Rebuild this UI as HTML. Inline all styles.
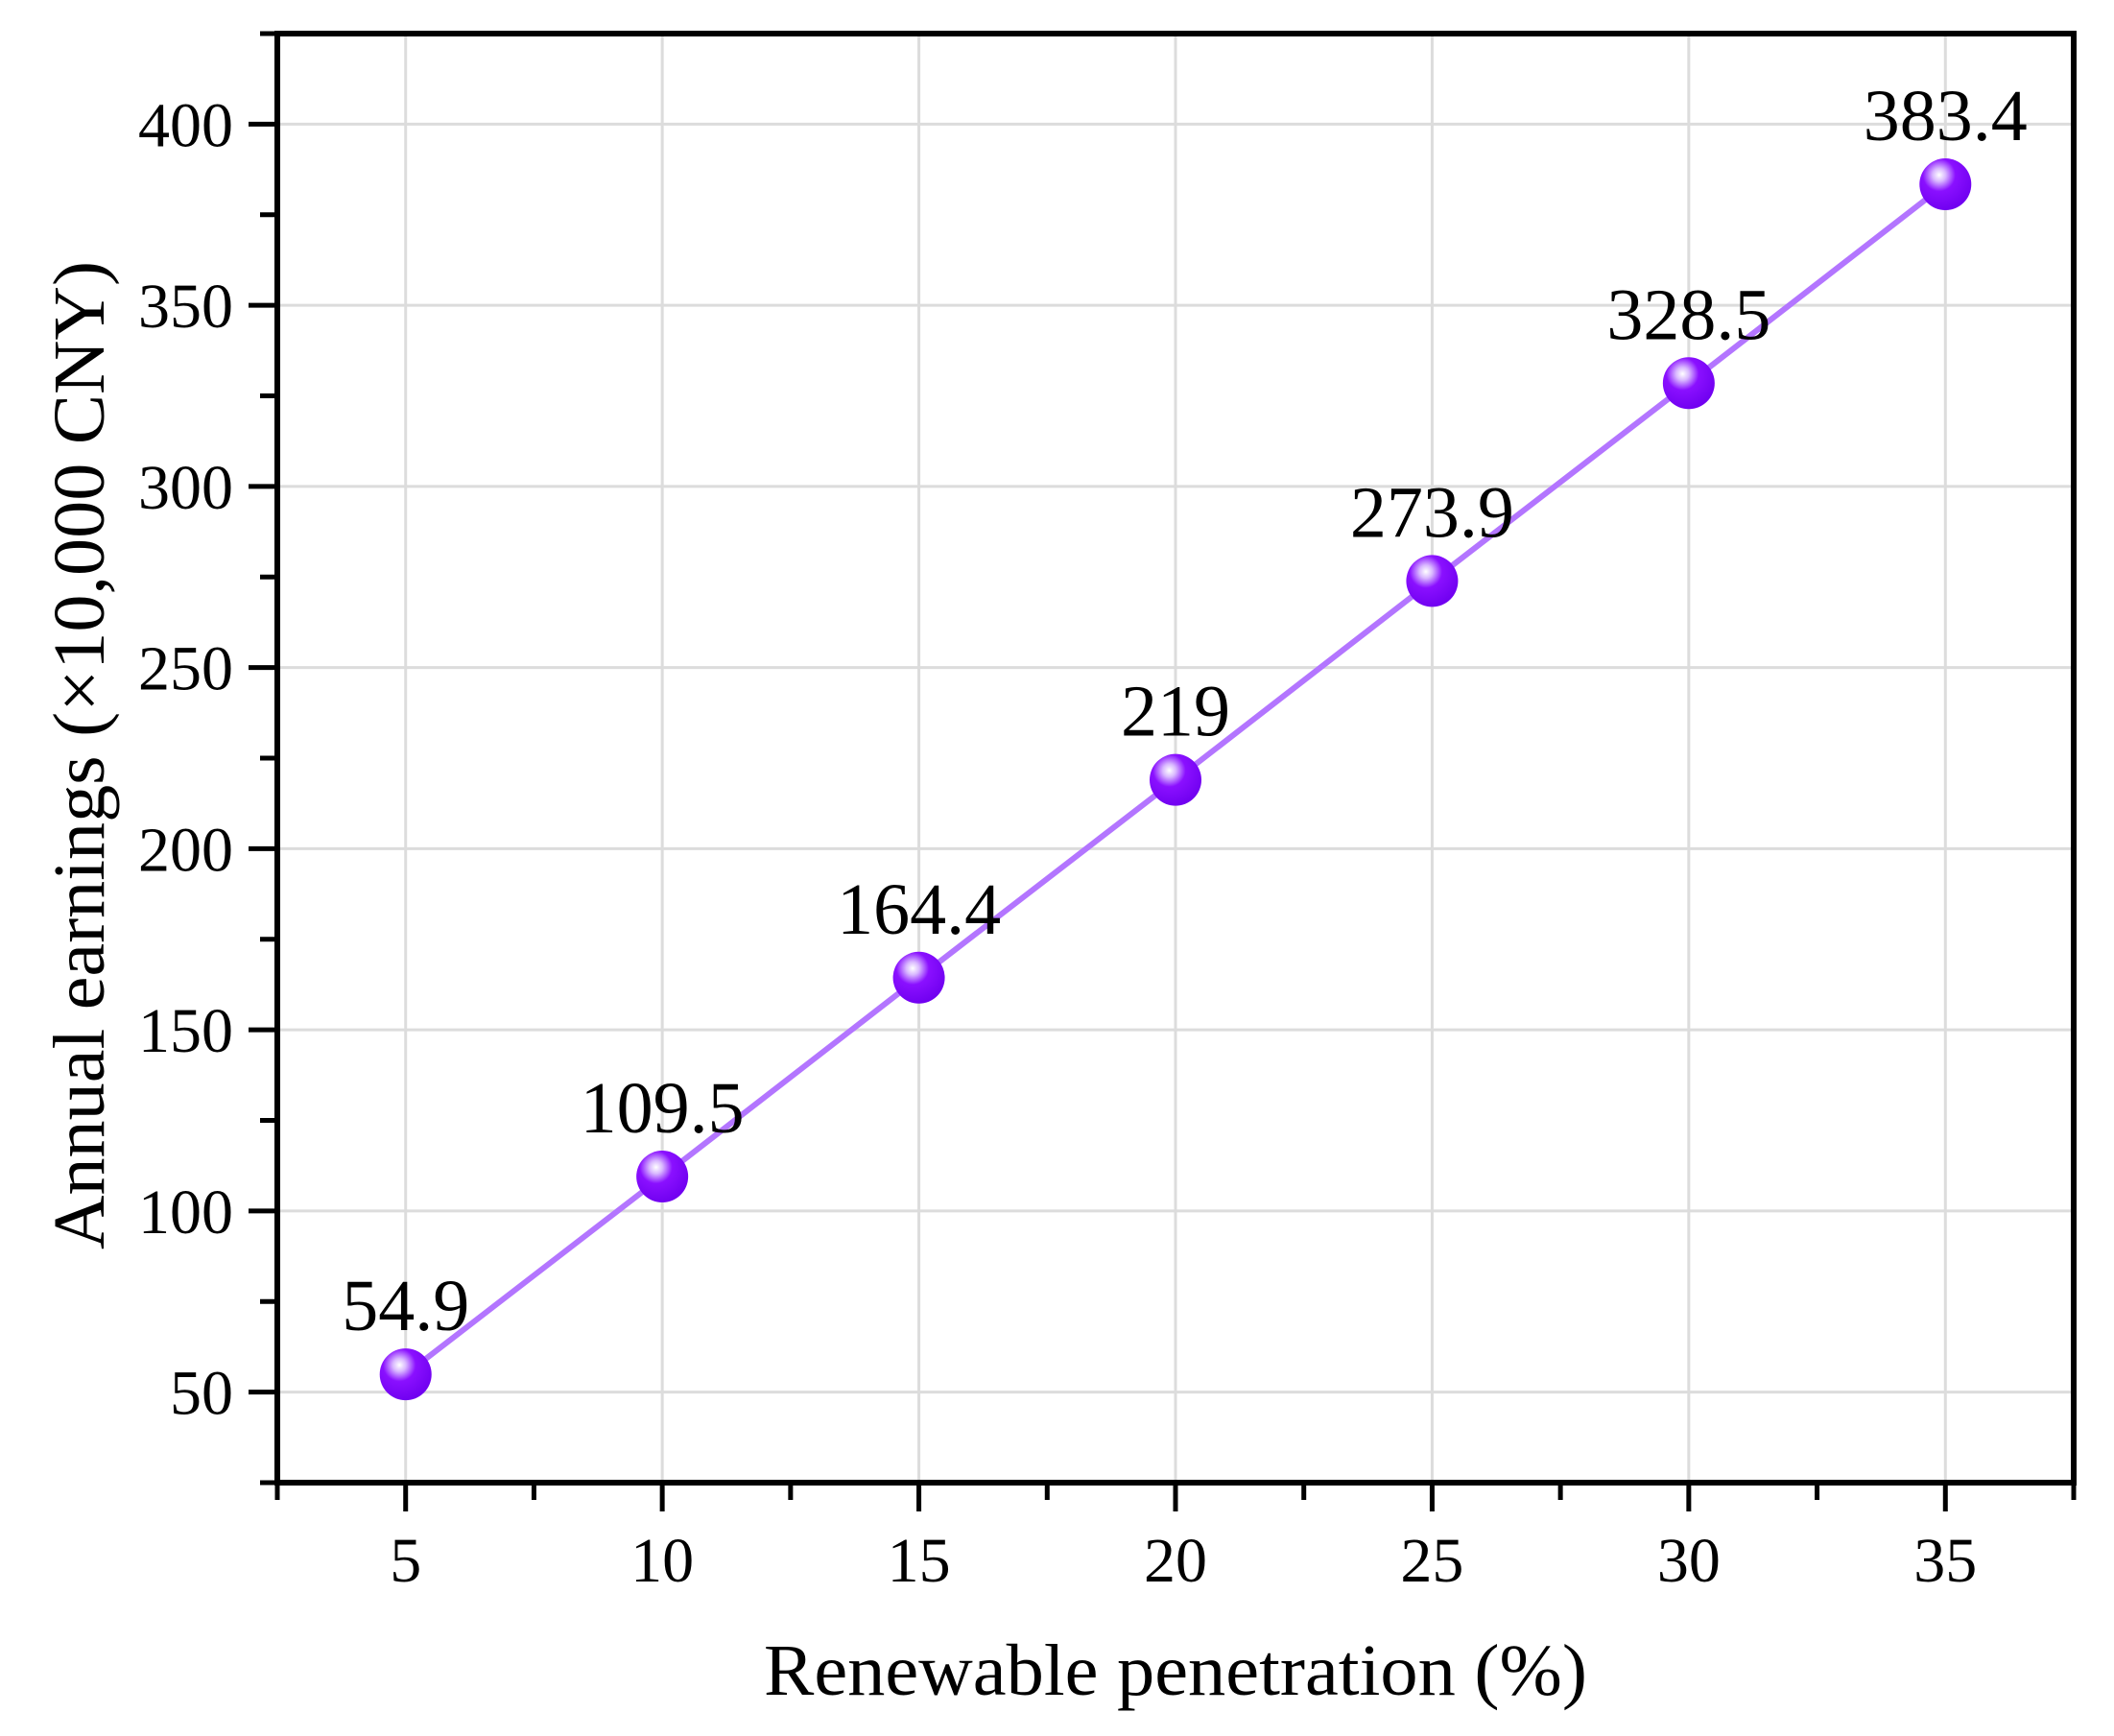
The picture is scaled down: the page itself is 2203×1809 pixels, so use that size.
<!DOCTYPE html>
<html><head><meta charset="utf-8"><style>
html,body{margin:0;padding:0;background:#fff}
svg{display:block}
text{font-family:"Liberation Serif","Times New Roman",serif;fill:#000}
</style></head><body>
<svg id="chart" width="2203" height="1809" viewBox="0 0 2203 1809" xmlns="http://www.w3.org/2000/svg">
<defs>
<radialGradient id="ball" cx="0.38" cy="0.32" r="0.7">
<stop offset="0" stop-color="#ffffff"/>
<stop offset="0.18" stop-color="#d9b8ff"/>
<stop offset="0.45" stop-color="#8a10ff"/>
<stop offset="1" stop-color="#7000f0"/>
</radialGradient>
</defs>
<g id="grid"></g>
<g id="axes"></g>
<g id="series"></g>
<text x="1225" y="1766" font-size="76" text-anchor="middle" textLength="858" lengthAdjust="spacingAndGlyphs">Renewable penetration (%)</text>
<text transform="translate(108,787) rotate(-90)" font-size="76" text-anchor="middle" textLength="1030" lengthAdjust="spacingAndGlyphs">Annual earnings (×10,000 CNY)</text>
</svg>
<script>
const categories = [5, 10, 15, 20, 25, 30, 35];
const earnings = [54.9, 109.5, 164.4, 219, 273.9, 328.5, 383.4];
const valueLabels = ["54.9", "109.5", "164.4", "219", "273.9", "328.5", "383.4"];
const xTicks = [5, 10, 15, 20, 25, 30, 35];
const yTicks = [50, 100, 150, 200, 250, 300, 350, 400];

const L = 289, R = 2161, T = 35, B = 1545;
const xMin = 2.5, xMax = 37.5, yMin = 25, yMax = 425;
const sx = v => L + (v - xMin) / (xMax - xMin) * (R - L);
const sy = v => B - (v - yMin) / (yMax - yMin) * (B - T);
const NS = "http://www.w3.org/2000/svg";
function mk(tag, attrs, parent) {
  const e = document.createElementNS(NS, tag);
  for (const k in attrs) e.setAttribute(k, attrs[k]);
  parent.appendChild(e);
  return e;
}
const grid = document.getElementById('grid');
const axes = document.getElementById('axes');
const series = document.getElementById('series');

xTicks.forEach(v => {
  const g = mk('line', {x1: sx(v), x2: sx(v), y1: T, y2: B, stroke: '#dcdcdc', 'stroke-width': 3}, grid);
  
  
});
yTicks.forEach(v => {
  const g = mk('line', {x1: L, x2: R, y1: sy(v), y2: sy(v), stroke: '#dcdcdc', 'stroke-width': 3}, grid);
  
  
});

const frame = mk('rect', {x: L, y: T, width: R - L, height: B - T, fill: 'none', stroke: '#000', 'stroke-width': 6}, axes);



for (let v = xMin; v <= xMax + 0.001; v += 2.5) {
  const major = xTicks.includes(v);
  const t = mk('line', {x1: sx(v), x2: sx(v), y1: B, y2: B + (major ? 30 : 18), stroke: '#000', 'stroke-width': 5}, axes);
  
  
}
xTicks.forEach(v => {
  const t = mk('text', {x: sx(v), y: 1648, 'font-size': 66, 'text-anchor': 'middle'}, axes);
  t.textContent = v;
  
  
});
for (let v = yMin; v <= yMax + 0.001; v += 25) {
  const major = yTicks.includes(v);
  const t = mk('line', {x1: L - (major ? 30 : 18), x2: L, y1: sy(v), y2: sy(v), stroke: '#000', 'stroke-width': 5}, axes);
  
  
}
yTicks.forEach(v => {
  const t = mk('text', {x: 243, y: sy(v) + 23, 'font-size': 66, 'text-anchor': 'end'}, axes);
  t.textContent = v;
  
  
});

const pts = categories.map((c, i) => sx(c) + ',' + sy(earnings[i])).join(' ');
const line = mk('polyline', {points: pts, fill: 'none', stroke: '#b375ff', 'stroke-width': 6}, series);



categories.forEach((c, i) => {
  const m = mk('circle', {cx: sx(c), cy: sy(earnings[i]), r: 27, fill: 'url(#ball)'}, series);
  
  
  const t = mk('text', {x: sx(c), y: sy(earnings[i]) - 46, 'font-size': 76, 'text-anchor': 'middle'}, series);
  t.textContent = valueLabels[i];
  
  
});
</script>
</body></html>
